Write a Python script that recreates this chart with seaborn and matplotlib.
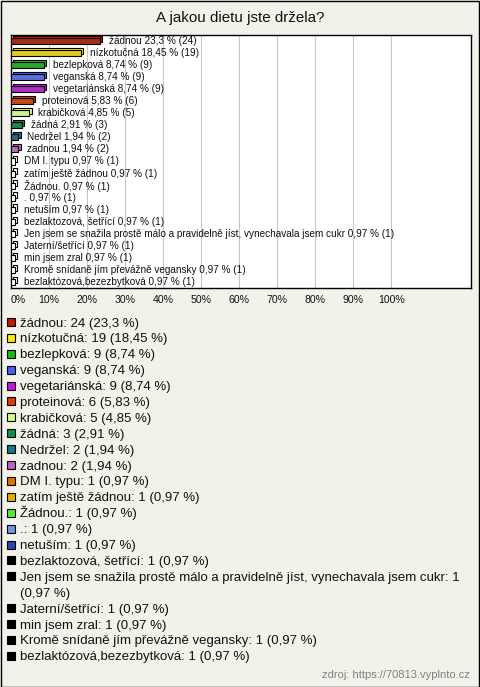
import textwrap
import matplotlib
matplotlib.use("Agg")
import matplotlib.pyplot as plt
import matplotlib.transforms as mtransforms
from matplotlib.patches import Rectangle
import pandas as pd
import seaborn as sns

# ---- data ----
categories = [
    "žádnou", "nízkotučná", "bezlepková", "veganská", "vegetariánská",
    "proteinová", "krabičková", "žádná", "Nedržel", "zadnou", "DM I. typu",
    "zatím ještě žádnou", "Žádnou.", ".", "netuším", "bezlaktozová, šetřící",
    "Jen jsem se snažila prostě málo a pravidelně jíst, vynechavala jsem cukr",
    "Jaterní/šetřící", "min jsem zral", "Kromě snídaně jím převážně vegansky",
    "bezlaktózová,bezezbytková",
]
counts = [24, 19, 9, 9, 9, 6, 5, 3, 2, 2, 1, 1, 1, 1, 1, 1, 1, 1, 1, 1, 1]
percents = [23.3, 18.45, 8.74, 8.74, 8.74, 5.83, 4.85, 2.91, 1.94, 1.94,
            0.97, 0.97, 0.97, 0.97, 0.97, 0.97, 0.97, 0.97, 0.97, 0.97, 0.97]
colors = ["#c01a00", "#ffe600", "#12c012", "#4262f0", "#c412e0", "#e03a00",
          "#d0ff80", "#109050", "#107890", "#c060c0", "#e07000", "#e0b000",
          "#50f030", "#7098e0", "#2848b0", "#000000", "#000000", "#000000",
          "#000000", "#000000", "#000000"]
title = "A jakou dietu jste držela?"
xticks = [0, 10, 20, 30, 40, 50, 60, 70, 80, 90, 100]
source = "zdroj: https://70813.vyplnto.cz"


def fmt(v):
    s = f"{v:.2f}".rstrip("0").rstrip(".")
    return s.replace(".", ",")


df = pd.DataFrame({"cat": categories, "pct": percents, "n": counts})

W, H = 480, 687
BG = "#f3f2ea"
FONT = ["Liberation Sans", "DejaVu Sans"]

sns.set_theme(style="white")
plt.rcParams["font.family"] = FONT

fig = plt.figure(figsize=(W / 100, H / 100), dpi=100, facecolor=BG)


def fx(x):
    return x / W


def fy(y):
    return 1 - y / H


# outer border
fig.patches.append(Rectangle((0.5 / W, 0.5 / H), 1 - 1.5 / W, 1 - 1.5 / H,
                             transform=fig.transFigure, fill=False,
                             edgecolor="black", linewidth=1.0))

# main axes (pixel box 11..471 x 35..288)
L, R, T, B = 11, 471, 35, 288
ax = fig.add_axes([fx(L), fy(B), (R - L) / W, (B - T) / H])
ax.set_facecolor("white")

bar_colors = [c if n > 1 else "white" for c, n in zip(colors, counts)]
sns.barplot(data=df, x="pct", y="cat", hue="cat", palette=bar_colors,
            orient="h", width=0.5, edgecolor="black", linewidth=0.8,
            legend=False, ax=ax, zorder=3)

ax.set_xlim(0, 121)
ax.set_ylim(len(categories) - 0.5, -0.5)

# pseudo-3D depth
off = mtransforms.offset_copy(ax.transData, fig=fig, x=2.2, y=2.2, units="dots")
for p, c in zip(list(ax.patches), bar_colors):
    d = Rectangle(p.get_xy(), p.get_width(), p.get_height(), transform=off,
                  facecolor=c, edgecolor="black", linewidth=0.8, zorder=2)
    ax.add_patch(d)

# labels
lab_off = mtransforms.offset_copy(ax.transData, fig=fig, x=9, y=0, units="dots")
for i, (c, v, n) in enumerate(zip(categories, percents, counts)):
    ax.text(v, i, f"{c} {fmt(v)} % ({n})", transform=lab_off, va="center",
            ha="left", fontsize=7.2, color="#111111", zorder=5)

ax.set_xticks(xticks)
ax.set_xticklabels([f"{t}%" for t in xticks], fontsize=7.6, color="#111111")
ax.get_xticklabels()[0].set_horizontalalignment("left")
ax.tick_params(axis="x", length=0, pad=5)
ax.set_yticks([])
ax.set_xlabel("")
ax.set_ylabel("")
ax.grid(axis="x", color="#c8c8c8", linewidth=0.8, zorder=0)
ax.set_axisbelow(True)
for s in ax.spines.values():
    s.set_visible(True)
    s.set_color("black")
    s.set_linewidth(1.0)

# title
fig.text(0.5, fy(18), title, ha="center", va="center", fontsize=10.9,
         color="#111111")

# legend
y = 322
step = 15.9
for c, v, n, col in zip(categories, percents, counts, colors):
    lines = textwrap.wrap(f"{c}: {n} ({fmt(v)} %)", width=78)
    fig.patches.append(Rectangle((fx(7), fy(y + 4)), 8 / W, 8 / H,
                                 transform=fig.transFigure, facecolor=col,
                                 edgecolor="black", linewidth=0.8))
    for line in lines:
        fig.text(fx(20), fy(y + 4.5), line, ha="left", va="baseline",
                 fontsize=9.5, color="#111111")
        y += step

fig.text(fx(470), fy(675), source, ha="right", va="center", fontsize=8,
         color="#808080")

fig.savefig("out.png", dpi=100, facecolor=BG)
